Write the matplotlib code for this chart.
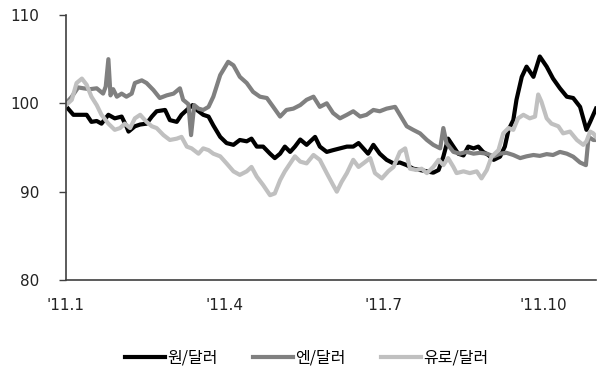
import matplotlib
matplotlib.use("Agg")
import matplotlib.pyplot as plt

plt.rcParams['font.family'] = ['DejaVu Sans', 'Noto Sans CJK KR']

# x = months since 2011-01-01, y = index (2011-01 = 100)
krw_x = [0.04, 0.14, 0.26, 0.39, 0.48, 0.58, 0.67, 0.80, 0.92, 1.05, 1.14, 1.18, 1.30, 1.40,
         1.52, 1.62, 1.71, 1.87, 1.96, 2.09, 2.18, 2.28, 2.39, 2.47, 2.59, 2.69, 2.78, 2.91,
         3.03, 3.16, 3.28, 3.41, 3.50, 3.60, 3.72, 3.85, 3.94, 4.04, 4.13, 4.23, 4.32, 4.42,
         4.54, 4.70, 4.79, 4.92, 5.04, 5.17, 5.30, 5.42, 5.52, 5.61, 5.70, 5.80, 5.92, 6.05,
         6.18, 6.30, 6.43, 6.55, 6.68, 6.81, 6.93, 7.03, 7.12, 7.21, 7.31, 7.40, 7.50, 7.59,
         7.69, 7.78, 7.87, 7.97, 8.07, 8.19, 8.28, 8.35, 8.44, 8.50, 8.60, 8.69, 8.82, 8.94,
         9.07, 9.19, 9.32, 9.45, 9.57, 9.70, 9.76, 9.82, 9.89, 10.0]
krw = [99.4, 98.7, 98.7, 98.7, 97.9, 98.0, 97.7, 98.7, 98.3, 98.5, 97.4, 96.8, 97.4, 97.6,
       97.7, 98.5, 99.1, 99.25, 98.1, 97.9, 98.7, 99.25, 99.8, 99.25, 98.7, 98.5, 97.5, 96.2,
       95.5, 95.3, 95.85, 95.7, 96.0, 95.1, 95.1, 94.3, 93.8, 94.3, 95.1, 94.5, 95.1, 95.9,
       95.3, 96.2, 95.1, 94.5, 94.7, 94.9, 95.1, 95.1, 95.5, 94.9, 94.3, 95.3, 94.3, 93.6,
       93.2, 93.3, 93.0, 92.6, 92.45, 92.3, 92.15, 92.45, 93.96, 96.0, 95.1, 94.3, 94.1, 95.1,
       94.9, 95.1, 94.5, 94.15, 93.6, 93.96, 95.1, 97.0, 98.1, 100.4, 103.0, 104.15, 103.0, 105.3,
       104.15, 102.8, 101.7, 100.75, 100.6, 99.6, 98.3, 97.0, 97.9, 99.4]

jpy_x = [0.0, 0.11, 0.23, 0.33, 0.45, 0.58, 0.70, 0.75, 0.80, 0.84, 0.89, 0.96, 1.05, 1.14,
         1.24, 1.30, 1.43, 1.52, 1.65, 1.77, 1.90, 2.03, 2.15, 2.21, 2.31, 2.36, 2.42, 2.50,
         2.59, 2.69, 2.78, 2.91, 3.06, 3.16, 3.28, 3.41, 3.53, 3.66, 3.79, 3.91, 4.04, 4.16,
         4.29, 4.42, 4.54, 4.67, 4.79, 4.92, 5.04, 5.17, 5.30, 5.42, 5.55, 5.67, 5.80, 5.92,
         6.05, 6.21, 6.30, 6.43, 6.55, 6.68, 6.81, 6.93, 7.06, 7.12, 7.18, 7.31, 7.43, 7.56,
         7.69, 7.81, 7.94, 8.07, 8.19, 8.31, 8.44, 8.57, 8.69, 8.82, 8.94, 9.07, 9.19, 9.32,
         9.45, 9.57, 9.70, 9.81, 9.86, 9.95, 10.0]
jpy = [100.0, 100.75, 101.8, 101.7, 101.6, 101.7, 101.1, 101.9, 105.0, 100.9, 101.6, 100.75, 101.1, 100.75,
       101.1, 102.3, 102.6, 102.3, 101.5, 100.6, 100.9, 101.1, 101.7, 100.4, 99.9, 96.4, 99.8, 99.4,
       99.25, 99.6, 100.75, 103.2, 104.7, 104.3, 103.0, 102.3, 101.3, 100.75, 100.6, 99.6, 98.5, 99.25,
       99.4, 99.8, 100.4, 100.75, 99.6, 100.0, 98.9, 98.3, 98.7, 99.1, 98.5, 98.7, 99.25, 99.1,
       99.4, 99.6, 98.7, 97.4, 97.0, 96.6, 95.85, 95.3, 94.9, 97.2, 95.5, 94.5, 94.3, 94.5,
       94.3, 94.4, 94.3, 94.0, 94.3, 94.4, 94.15, 93.8, 94.0, 94.15, 94.05, 94.25, 94.15, 94.5,
       94.3, 93.96, 93.3, 93.0, 96.2, 95.85, 95.85]

eur_x = [0.0, 0.11, 0.20, 0.30, 0.39, 0.48, 0.58, 0.67, 0.80, 0.92, 1.02, 1.11, 1.21, 1.30,
         1.40, 1.52, 1.62, 1.71, 1.84, 1.96, 2.09, 2.18, 2.28, 2.37, 2.50, 2.59, 2.69, 2.78,
         2.91, 3.03, 3.16, 3.28, 3.41, 3.50, 3.60, 3.72, 3.85, 3.94, 4.04, 4.13, 4.23, 4.32,
         4.42, 4.54, 4.67, 4.79, 4.92, 5.04, 5.11, 5.20, 5.30, 5.42, 5.52, 5.61, 5.74, 5.83,
         5.96, 6.08, 6.18, 6.30, 6.40, 6.49, 6.62, 6.71, 6.81, 6.93, 7.03, 7.12, 7.21, 7.31,
         7.37, 7.50, 7.62, 7.75, 7.84, 7.94, 8.03, 8.16, 8.25, 8.35, 8.44, 8.53, 8.63, 8.75,
         8.85, 8.91, 8.97, 9.07, 9.16, 9.29, 9.38, 9.51, 9.64, 9.76, 9.82, 9.89, 9.95, 10.0]
eur = [99.8, 100.4, 102.3, 102.8, 102.1, 100.75, 99.8, 98.7, 97.7, 97.0, 97.2, 97.7, 97.2, 98.3,
       98.7, 97.9, 97.4, 97.2, 96.4, 95.85, 96.0, 96.2, 95.1, 94.9, 94.3, 94.9, 94.7, 94.3,
       94.0, 93.2, 92.3, 91.9, 92.3, 92.8, 91.7, 90.75, 89.6, 89.8, 91.3, 92.3, 93.2, 94.0,
       93.4, 93.2, 94.15, 93.6, 92.1, 90.75, 90.0, 91.1, 92.1, 93.6, 92.8, 93.2, 93.8, 92.1,
       91.5, 92.3, 92.8, 94.5, 94.9, 92.6, 92.45, 92.6, 92.1, 92.8, 93.6, 93.0, 93.8, 92.8,
       92.1, 92.3, 92.1, 92.3, 91.5, 92.45, 93.96, 94.7, 96.6, 97.2, 97.0, 98.3, 98.7, 98.3,
       98.5, 101.0, 100.2, 98.3, 97.7, 97.4, 96.6, 96.8, 95.85, 95.3, 95.7, 96.8, 96.6, 96.2]

series_labels = ['원/달러', '엔/달러', '유로/달러']
tick_pos = [0, 3, 6, 9]
tick_labels = ["'11.1", "'11.4", "'11.7", "'11.10"]
y_ticks = [80, 90, 100, 110]

fig = plt.figure(figsize=(6.02, 3.71), dpi=100)
ax = fig.add_axes([0.1096, 0.2453, 0.8804, 0.7143])

ax.plot(krw_x, krw, color='#000000', lw=3, label=series_labels[0], solid_joinstyle='round')
ax.plot(jpy_x, jpy, color='#808080', lw=3, label=series_labels[1], solid_joinstyle='round')
ax.plot(eur_x, eur, color='#c0c0c0', lw=3, label=series_labels[2], solid_joinstyle='round')

ax.set_xlim(0, 10)
ax.set_ylim(80, 110)
ax.set_yticks(y_ticks)
ax.set_xticks(tick_pos)
ax.set_xticklabels(tick_labels)

for s in ['top', 'right']:
    ax.spines[s].set_visible(False)
for s in ['left', 'bottom']:
    ax.spines[s].set_color('#404040')
    ax.spines[s].set_linewidth(1.2)

ax.tick_params(axis='y', direction='out', length=5, width=1, color='#404040',
               labelsize=11, pad=14, labelcolor='#222222')
ax.tick_params(axis='x', length=0, labelsize=11, pad=13, labelcolor='#222222')

leg = fig.legend(loc='center', bbox_to_anchor=(0.51, 0.035), ncol=3, frameon=False,
                 handlelength=2.5, handletextpad=0.15, columnspacing=2.2,
                 prop={'family': ['Noto Sans CJK KR'], 'size': 11.5})

fig.savefig('out.png', dpi=100)
